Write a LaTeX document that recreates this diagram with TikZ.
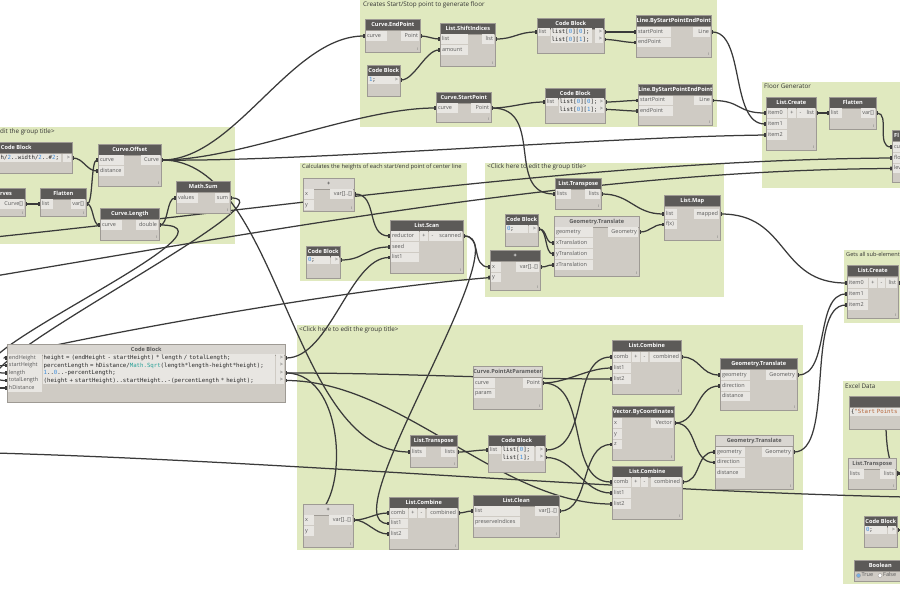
\documentclass[tikz,border=0pt]{standalone}
\usepackage{fontspec}
\setmainfont{Open Sans}
\newfontfamily\codefont{DejaVu Sans Mono}
\usetikzlibrary{arrows.meta}
\definecolor{grp}{HTML}{E0E9BF}
\definecolor{nbody}{HTML}{CFCBC4}
\definecolor{bord}{HTML}{9E9A94}
\definecolor{hdark}{HTML}{5C5A58}
\definecolor{hlight}{HTML}{D9D6D1}
\definecolor{lab}{HTML}{E8E6E2}
\definecolor{labtxt}{HTML}{5A5A5A}
\definecolor{wirec}{HTML}{3A3A3A}
\definecolor{numc}{HTML}{3C8DDB}
\definecolor{fnc}{HTML}{2AA198}
\definecolor{strc}{HTML}{B5653A}
\pgfdeclarelayer{bg}
\pgfdeclarelayer{wl}
\pgfsetlayers{bg,wl,main}
\tikzset{
 grptitle/.style={anchor=west, inner sep=0pt, font=\fontsize{6.3}{7}\selectfont, text=black!80},
 dbody/.style={anchor=north west, fill=nbody, draw=bord, line width=0.6pt, inner sep=0pt},
 dhead/.style={anchor=north west, fill=hdark, draw=bord, line width=0.6pt, text=white, font=\fontsize{5.6}{6.5}\selectfont\bfseries, minimum height=11pt, inner sep=0pt},
 lhead/.style={dhead, fill=hlight, text=labtxt},
 htext/.style={anchor=west, inner sep=0pt, text=white, font=\fontsize{5.6}{6.5}\selectfont\bfseries},
 imark/.style={anchor=south east, inner sep=0pt, text=labtxt, font=\fontsize{3.6}{4}\selectfont},
 pin/.style={anchor=west, fill=lab, text=labtxt, font=\fontsize{5.5}{6.5}\selectfont, minimum height=9.5pt, inner xsep=1pt, inner ysep=0pt, align=left, text height=4.2pt, text depth=1.3pt},
 pout/.style={pin, anchor=east, align=right},
 pins/.style={pin, minimum height=7.4pt},
 pouts/.style={pout, minimum height=7.4pt},
 pbtn/.style={anchor=west, fill=lab, text=labtxt, font=\fontsize{5.5}{6.5}\selectfont, minimum height=9.5pt, minimum width=7.5pt, inner sep=0pt, text height=4.2pt, text depth=1.3pt},
 codel/.style={anchor=west, fill=lab, text=black!85, font=\codefont\fontsize{5.7}{7}\selectfont, inner xsep=1pt, inner ysep=0pt, minimum height=7.5pt, align=left, text height=4.3pt, text depth=1.2pt},
 wire/.style={draw=wirec, line width=1.25pt, {Rectangle[length=2.6pt,width=3.8pt]}-{Rectangle[length=2.6pt,width=3.8pt]}},
 wirefree/.style={draw=wirec, line width=1.25pt},
 wireend/.style={draw=wirec, line width=1.25pt, -{Rectangle[length=2.6pt,width=3.8pt]}},
 wirestart/.style={draw=wirec, line width=1.25pt, {Rectangle[length=2.6pt,width=3.8pt]}-},
 radio/.style={circle, draw=bord, fill=white, minimum size=4pt, inner sep=0pt},
}
% node with the small mark at the lower right corner
\newcommand\dnode[7]{%
 \node[dbody, minimum width=#4pt, minimum height=#5pt] (#1) at (#2,#3) {};
 \node[#7, minimum width=#4pt] (#1-h) at (#2,#3) {#6};
 \node[imark] (#1-m) at (#2+#4-2,#3+#5-1.5) {I};}
% code block node (no mark)
\newcommand\cnode[7]{%
 \node[dbody, minimum width=#4pt, minimum height=#5pt] (#1) at (#2,#3) {};
 \node[#7, minimum width=#4pt] (#1-h) at (#2,#3) {#6};}
\newcommand\pinL[5]{\pgfmathsetmacro\mytw{#4-2}\node[pin,text width=\mytw pt] (#1) at (#2,#3) {#5};}
\newcommand\poutR[5]{\pgfmathsetmacro\mytw{#4-2}\node[pout,text width=\mytw pt] (#1) at (#2,#3) {#5};}
\newcommand\pinS[5]{\pgfmathsetmacro\mytw{#4-2}\node[pins,text width=\mytw pt] (#1) at (#2,#3) {#5};}
\newcommand\poutS[5]{\pgfmathsetmacro\mytw{#4-2}\node[pouts,text width=\mytw pt] (#1) at (#2,#3) {#5};}
\newcommand\codeL[5]{\pgfmathsetmacro\mytw{#4-2}\node[codel,text width=\mytw pt] (#1) at (#2,#3) {#5};}
\newcommand\btn[4]{\node[pbtn] (#1) at (#2,#3) {#4};}
\newcommand\wire[3]{\draw[wire] (#1.east) .. controls +(#3,0) and +(-#3,0) .. (#2.west);}
\newcommand\nm[1]{\textcolor{numc}{#1}}
\begin{document}
\begin{tikzpicture}[x=1pt,y=-1pt]
\useasboundingbox (0,0) rectangle (900,595);
\clip (0,0) rectangle (900,595);

% ---------- top group
\dnode{ep}{365}{19}{55}{33}{Curve.EndPoint}{dhead}
\pinL{ep-i1}{365.8}{36}{21}{curve}
\poutR{ep-o1}{419.2}{36}{18}{Point}
\cnode{cb1}{367}{65}{33}{31}{Code Block}{dhead}
\codeL{cb1-c}{367.8}{80}{23}{\nm{1};}
\poutS{cb1-o1}{399.2}{80}{8}{>}
\dnode{si}{440}{23}{55}{43}{List.ShiftIndices}{dhead}
\pinL{si-i1}{440.8}{39}{27}{list}
\pinL{si-i2}{440.8}{50}{27}{amount}
\poutR{si-o1}{494.2}{39}{12}{list}
\cnode{cbA}{537}{18}{67}{35}{Code Block}{dhead}
\pinS{cbA-i1}{537.8}{32}{12}{list}
\codeL{cbA-c1}{550.5}{32}{41}{list[\nm{0}][\nm{0}];}
\codeL{cbA-c2}{550.5}{39.5}{41}{list[\nm{0}][\nm{1}];}
\poutS{cbA-o1}{603.2}{32}{8}{>}
\poutS{cbA-o2}{603.2}{39.5}{8}{>}
\dnode{l1}{636}{15}{75}{42}{Line.ByStartPointEndPoint}{dhead}
\pinL{l1-i1}{636.8}{32}{34}{startPoint}
\pinL{l1-i2}{636.8}{42.5}{34}{endPoint}
\poutR{l1-o1}{710.2}{32}{17}{Line}
\dnode{sp}{436}{92}{55}{30}{Curve.StartPoint}{dhead}
\pinL{sp-i1}{436.8}{108}{21}{curve}
\poutR{sp-o1}{490.2}{108}{19}{Point}
\cnode{cbB}{545}{88}{60}{35}{Code Block}{dhead}
\pinS{cbB-i1}{545.8}{102}{12}{list}
\codeL{cbB-c1}{558.5}{102}{40}{list[\nm{0}][\nm{0}];}
\codeL{cbB-c2}{558.5}{109.5}{40}{list[\nm{0}][\nm{1}];}
\poutS{cbB-o1}{604.2}{102}{8}{>}
\poutS{cbB-o2}{604.2}{109.5}{8}{>}
\dnode{l2}{638}{84}{74}{41}{Line.ByStartPointEndPoint}{dhead}
\pinL{l2-i1}{638.8}{100.5}{34}{startPoint}
\pinL{l2-i2}{638.8}{111}{34}{endPoint}
\poutR{l2-o1}{711.2}{100.5}{17}{Line}

% ---------- left group
\cnode{cbL}{-40}{142}{112}{31}{Code Block}{dhead}
\codeL{cbL-c}{-0.5}{158}{61}{h/\nm{2}..width/\nm{2}..\#\nm{2};}
\poutS{cbL-o1}{71.2}{158}{8}{>}
\dnode{cv}{-40}{188}{65}{28}{}{dhead}
\node[htext] (cv-t) at (0,193.5) {rves};
\poutR{cv-o1}{24.2}{204}{24}{Curve[]}
\dnode{fl}{40}{188}{46}{28}{Flatten}{dhead}
\pinL{fl-i1}{40.8}{204}{12}{list}
\poutR{fl-o1}{85.2}{204}{14}{var[]}
\dnode{co}{98}{144}{63}{42}{Curve.Offset}{dhead}
\pinL{co-i1}{98.8}{160}{25}{curve}
\pinL{co-i2}{98.8}{171}{25}{distance}
\poutR{co-o1}{160.2}{160}{19}{Curve}
\dnode{cl}{100}{208}{59}{32}{Curve.Length}{dhead}
\pinL{cl-i1}{100.8}{225}{21}{curve}
\poutR{cl-o1}{158.2}{225}{22}{double}
\dnode{ms}{176}{181}{54}{32}{Math.Sum}{dhead}
\pinL{ms-i1}{176.8}{198}{21}{values}
\poutR{ms-o1}{229.2}{198}{14}{sum}

% ---------- big code block
\cnode{cbBig}{7}{344}{278}{58}{Code Block}{lhead}
\pinS{cbBig-i1}{7.8}{358}{34}{endHeight}
\pinS{cbBig-i2}{7.8}{365.5}{34}{startHeight}
\pinS{cbBig-i3}{7.8}{373}{34}{length}
\pinS{cbBig-i4}{7.8}{380.5}{34}{totalLength}
\pinS{cbBig-i5}{7.8}{388}{34}{hDistance}
\codeL{cbBig-c1}{42.5}{358}{232}{height = (endHeight - startHeight) * length / totalLength;}
\codeL{cbBig-c2}{42.5}{365.5}{232}{percentLength = hDistance/\textcolor{fnc}{Math.Sqrt}(length*length-height*height);}
\codeL{cbBig-c3}{42.5}{373}{232}{\nm{1}..\nm{0}..-percentLength;}
\codeL{cbBig-c4}{42.5}{380.5}{232}{(height + startHeight)..startHeight..-(percentLength * height);}
\poutS{cbBig-o1}{284.2}{358}{8}{>}
\poutS{cbBig-o2}{284.2}{365.5}{8}{>}
\poutS{cbBig-o3}{284.2}{373}{8}{>}
\poutS{cbBig-o4}{284.2}{380.5}{8}{>}

% ---------- heights group
\dnode{plusH}{303}{178}{51}{33}{+}{lhead}
\pinL{plusH-i1}{303.8}{194}{10}{x}
\pinL{plusH-i2}{303.8}{205}{10}{y}
\poutR{plusH-o1}{353.2}{194}{23}{var[]..[]}
\cnode{cb0a}{306}{246}{34}{32}{Code Block}{dhead}
\codeL{cb0a-c}{306.8}{260}{23}{\nm{0};}
\poutS{cb0a-o1}{339.2}{260}{8}{>}
\dnode{scan}{390}{220}{73}{53}{List.Scan}{dhead}
\pinL{scan-i1}{390.8}{236}{28}{reductor}
\btn{scan-b1}{420}{236}{+}
\btn{scan-b2}{428.5}{236}{-}
\pinL{scan-i2}{390.8}{247}{28}{seed}
\pinL{scan-i3}{390.8}{257.5}{28}{list1}
\poutR{scan-o1}{462.2}{236}{26}{scanned}

% ---------- middle group
\dnode{ltM}{555}{178}{46}{31}{List.Transpose}{dhead}
\pinL{ltM-i1}{555.8}{194}{15}{lists}
\poutR{ltM-o1}{600.2}{194}{15}{lists}
\cnode{cb0b}{505}{214}{33}{32}{Code Block}{dhead}
\codeL{cb0b-c}{505.8}{229}{22}{\nm{0};}
\poutS{cb0b-o1}{537.2}{229}{8}{>}
\dnode{gtM}{554}{216}{85}{60}{Geometry.Translate}{lhead}
\pinL{gtM-i1}{554.8}{232}{38}{geometry}
\pinL{gtM-i2}{554.8}{243}{38}{xTranslation}
\pinL{gtM-i3}{554.8}{254}{38}{yTranslation}
\pinL{gtM-i4}{554.8}{265}{38}{zTranslation}
\poutR{gtM-o1}{638.2}{232}{30}{Geometry}
\dnode{plusM}{490}{250}{50}{40}{+}{dhead}
\pinL{plusM-i1}{490.8}{267}{10}{x}
\pinL{plusM-i2}{490.8}{277.5}{10}{y}
\poutR{plusM-o1}{539.2}{267}{23}{var[]..[]}
\dnode{map}{664}{195}{56}{45}{List.Map}{dhead}
\pinL{map-i1}{664.8}{214}{12}{list}
\pinL{map-i2}{664.8}{224.5}{12}{f(x)}
\poutR{map-o1}{719.2}{214}{25}{mapped}

% ---------- floor generator
\dnode{lcF}{766}{97}{50}{53}{List.Create}{dhead}
\pinL{lcF-i1}{766.8}{113}{20}{item0}
\btn{lcF-b1}{788}{113}{+}
\btn{lcF-b2}{796.5}{113}{-}
\pinL{lcF-i2}{766.8}{124}{20}{item1}
\pinL{lcF-i3}{766.8}{135}{20}{item2}
\poutR{lcF-o1}{815.2}{113}{12}{list}
\dnode{flF}{829}{97}{47}{32}{Flatten}{dhead}
\pinL{flF-i1}{829.8}{113}{12}{list}
\poutR{flF-o1}{875.2}{113}{14}{var[]}
\cnode{fg}{892}{130}{40}{52}{}{dhead}
\node[htext] (fg-t) at (894,135.5) {Fl};
\pinL{fg-i1}{892.8}{147}{22}{cu}
\pinL{fg-i2}{892.8}{158}{22}{flo}
\pinL{fg-i3}{892.8}{168.5}{22}{lev}

% ---------- gets all
\dnode{lcG}{847}{265}{51}{53}{List.Create}{dhead}
\pinL{lcG-i1}{847.8}{283}{20}{item0}
\btn{lcG-b1}{869}{283}{+}
\btn{lcG-b2}{877.5}{283}{-}
\pinL{lcG-i2}{847.8}{294}{20}{item1}
\pinL{lcG-i3}{847.8}{305}{20}{item2}
\poutR{lcG-o1}{897.2}{283}{11}{list}

% ---------- excel data
\cnode{cbX}{849}{396}{70}{33}{}{dhead}
\codeL{cbX-c}{849.8}{412}{62}{\{\textcolor{strc}{"Start Points}}
\dnode{ltX}{848}{458}{48}{31}{List.Transpose}{lhead}
\pinL{ltX-i1}{848.8}{474}{15}{lists}
\poutR{ltX-o1}{895.2}{474}{15}{lists}
\cnode{cb0c}{864}{516}{33}{31}{Code Block}{dhead}
\codeL{cb0c-c}{864.8}{530}{22}{\nm{0};}
\poutS{cb0c-o1}{896.2}{530}{8}{>}
\cnode{bool}{854}{560}{52}{21}{Boolean}{dhead}
\node[radio, fill=numc!70] (bool-r1) at (858.5,575.5) {};
\node[pin, fill=none] (bool-t1) at (860.5,575.5) {True};
\node[radio] (bool-r2) at (880,575.5) {};
\node[pin, fill=none] (bool-t2) at (882,575.5) {False};

% ---------- bottom group
\dnode{pap}{473}{366}{69}{43}{Curve.PointAtParameter}{lhead}
\pinL{pap-i1}{473.8}{383}{21}{curve}
\pinL{pap-i2}{473.8}{393.5}{21}{param}
\poutR{pap-o1}{541.2}{383}{18}{Point}
\dnode{lc1}{612}{340}{69}{54}{List.Combine}{dhead}
\pinL{lc1-i1}{612.8}{357}{18}{comb}
\btn{lc1-b1}{632}{357}{+}
\btn{lc1-b2}{640.5}{357}{-}
\pinL{lc1-i2}{612.8}{368}{18}{list1}
\pinL{lc1-i3}{612.8}{379}{18}{list2}
\poutR{lc1-o1}{680.2}{357}{30}{combined}
\dnode{gt1}{720}{358}{77}{52}{Geometry.Translate}{dhead}
\pinL{gt1-i1}{720.8}{375}{29}{geometry}
\pinL{gt1-i2}{720.8}{386}{29}{direction}
\pinL{gt1-i3}{720.8}{396.5}{29}{distance}
\poutR{gt1-o1}{796.2}{375}{30}{Geometry}
\dnode{vec}{612}{406}{62}{54}{Vector.ByCoordinates}{dhead}
\pinL{vec-i1}{612.8}{423}{9}{x}
\pinL{vec-i2}{612.8}{434}{9}{y}
\pinL{vec-i3}{612.8}{444.5}{9}{z}
\poutR{vec-o1}{673.2}{423}{22}{Vector}
\dnode{gt2}{715}{435}{78}{54}{Geometry.Translate}{lhead}
\pinL{gt2-i1}{715.8}{452}{29}{geometry}
\pinL{gt2-i2}{715.8}{462.5}{29}{direction}
\pinL{gt2-i3}{715.8}{473}{29}{distance}
\poutR{gt2-o1}{792.2}{452}{30}{Geometry}
\dnode{lc2}{612}{466}{70}{53}{List.Combine}{dhead}
\pinL{lc2-i1}{612.8}{482}{18}{comb}
\btn{lc2-b1}{632}{482}{+}
\btn{lc2-b2}{640.5}{482}{-}
\pinL{lc2-i2}{612.8}{493}{18}{list1}
\pinL{lc2-i3}{612.8}{504}{18}{list2}
\poutR{lc2-o1}{681.2}{482}{30}{combined}
\dnode{ltB}{410}{435}{47}{32}{List.Transpose}{dhead}
\pinL{ltB-i1}{410.8}{452}{15}{lists}
\poutR{ltB-o1}{456.2}{452}{15}{lists}
\cnode{cbC}{488}{435}{57}{37}{Code Block}{dhead}
\pinS{cbC-i1}{488.8}{450}{12}{list}
\codeL{cbC-c1}{501.5}{450}{32}{list[\nm{0}];}
\codeL{cbC-c2}{501.5}{457.5}{32}{list[\nm{1}];}
\poutS{cbC-o1}{544.2}{450}{8}{>}
\poutS{cbC-o2}{544.2}{457.5}{8}{>}
\dnode{plusB}{303}{504}{50}{43}{+}{lhead}
\pinL{plusB-i1}{303.8}{520}{10}{x}
\pinL{plusB-i2}{303.8}{531}{10}{y}
\poutR{plusB-o1}{352.2}{520}{23}{var[]..[]}
\dnode{lc3}{389}{497}{69}{52}{List.Combine}{dhead}
\pinL{lc3-i1}{389.8}{513}{18}{comb}
\btn{lc3-b1}{409}{513}{+}
\btn{lc3-b2}{417.5}{513}{-}
\pinL{lc3-i2}{389.8}{523.5}{18}{list1}
\pinL{lc3-i3}{389.8}{534}{18}{list2}
\poutR{lc3-o1}{457.2}{513}{30}{combined}
\dnode{clean}{473}{495}{86}{42}{List.Clean}{dhead}
\pinL{clean-i1}{473.8}{511}{46}{list}
\pinL{clean-i2}{473.8}{522}{46}{preserveIndices}
\poutR{clean-o1}{558.2}{511}{23}{var[]..[]}

% ---------- groups
\begin{pgfonlayer}{bg}
\clip (0,0) rectangle (900,595);
\fill[grp] (360,0) rectangle (717,127);
\node[grptitle] (g1) at (363,5) {Creates Start/Stop point to generate floor};
\fill[grp] (0,127) rectangle (235,244);
\node[grptitle] (g2) at (0,131.5) {dit the group title>};
\fill[grp] (300,163) rectangle (467,281);
\node[grptitle, font=\fontsize{5.8}{7}\selectfont] (g3) at (302,166.5) {Calculates the heights of each start/end point of center line};
\fill[grp] (485,163) rectangle (724,297);
\node[grptitle] (g4) at (487,166.5) {<Click here to edit the group title>};
\fill[grp] (762,82) rectangle (900,188);
\node[grptitle] (g5) at (764,86) {Floor Generator};
\fill[grp] (844,250) rectangle (900,323);
\node[grptitle, font=\fontsize{5.6}{7}\selectfont] (g6) at (846,254) {Gets all sub-element};
\fill[grp] (297,325) rectangle (803,550);
\node[grptitle] (g7) at (299,329.5) {<Click here to edit the group title>};
\fill[grp] (843,381) rectangle (900,584);
\node[grptitle] (g8) at (845,386) {Excel Data};
\end{pgfonlayer}

% ---------- wires
\begin{pgfonlayer}{wl}
\clip (0,0) rectangle (900,595);
\coordinate (LA) at (-5,237);
\coordinate (LB) at (-5,276);
\coordinate (LC) at (-5,453);
\coordinate (LD) at (-5,365.5);
\coordinate (LE) at (-5,388);
\coordinate (RC) at (905,497);
\coordinate (RX) at (905,474);
\coordinate (XA) at (886,428);
\coordinate (RG) at (905,283);
\coordinate (RZ) at (905,530);
\wire{cbL-o1}{co-i2}{12}
\wire{fl-o1}{co-i1}{8}
\wire{fl-o1}{cl-i1}{8}
\wire{cv-o1}{fl-i1}{6}
\wire{cl-o1}{ms-i1}{10}
\draw[wire] (cl-o1.east) .. controls (260,225) and (-90,373) .. (cbBig-i3.west);
\draw[wire] (ms-o1.east) .. controls (300,198) and (-70,380.5) .. (cbBig-i4.west);
\wire{co-o1}{ep-i1}{75}
\wire{co-o1}{sp-i1}{80}
\draw[wire] (co-o1.east) .. controls (300,162) and (600,137) .. (lcF-i3.west);
\draw[wire] (co-o1.east) .. controls (280,160) and (290,452) .. (ltB-i1.west);
\wire{ep-o1}{si-i1}{8}
\wire{cb1-o1}{si-i2}{15}
\wire{si-o1}{cbA-i1}{20}
\wire{cbA-o1}{l1-i1}{12}
\wire{cbA-o2}{l1-i2}{12}
\wire{sp-o1}{cbB-i1}{20}
\draw[wire] (sp-o1.east) .. controls (545,108) and (505,194) .. (ltM-i1.west);
\wire{cbB-o1}{l2-i1}{12}
\wire{cbB-o2}{l2-i2}{12}
\draw[wire] (l1-o1.east) .. controls (745,32) and (730,124) .. (lcF-i2.west);
\wire{l2-o1}{lcF-i1}{30}
\wire{lcF-o1}{flF-i1}{5}
\draw[wire] (flF-o1.east) .. controls (890,113) and (876,147) .. (fg-i1.west);
\draw[wireend] (LA) .. controls (300,205) and (600,160) .. (fg-i2.west);
\draw[wireend] (LB) .. controls (300,225) and (600,170) .. (fg-i3.west);
\wire{ltM-o1}{map-i1}{30}
\wire{gtM-o1}{map-i2}{12}
\wire{cb0b-o1}{gtM-i2}{10}
\wire{cb0b-o1}{gtM-i3}{10}
\wire{plusM-o1}{gtM-i4}{8}
\wire{map-o1}{lcG-i1}{70}
\wire{plusH-o1}{scan-i1}{25}
\wire{cb0a-o1}{scan-i2}{25}
\draw[wire] (cbBig-o1.east) .. controls (330,358) and (350,257.5) .. (scan-i3.west);
\wire{scan-o1}{plusM-i1}{20}
\draw[wire] (scan-o1.east) .. controls (523,236) and (329,523.5) .. (lc3-i2.west);
\draw[wire] (plusM-i2.west) .. controls (300,293) and (-20,358) .. (cbBig-i1.west);
\draw[wire] (cbBig-o3.east) .. controls (400,373) and (500,379) .. (lc1-i3.west);
\draw[wirestart] (cbBig-o3.east) .. controls (350,373) and (350,520) .. (plusB-i1.west);
\draw[wire] (cbBig-o4.east) .. controls (400,380.5) and (500,504) .. (lc2-i3.west);
\wire{pap-o1}{lc1-i2}{25}
\draw[wire] (pap-o1.east) .. controls (590,383) and (565,482) .. (lc2-i1.west);
\draw[wire] (cbC-o1.east) .. controls (590,450) and (570,357) .. (lc1-i1.west);
\wire{cbC-o2}{lc2-i2}{30}
\wire{ltB-o1}{cbC-i1}{12}
\wire{plusB-o1}{lc3-i1}{15}
\wire{plusB-o1}{lc3-i3}{15}
\wire{lc3-o1}{clean-i1}{6}
\draw[wire] (clean-o1.east) .. controls (590,511) and (580,444.5) .. (vec-i3.west);
\wire{vec-o1}{gt1-i2}{25}
\wire{vec-o1}{gt2-i2}{25}
\wire{lc1-o1}{gt1-i1}{20}
\wire{lc2-o1}{gt2-i1}{20}
\draw[wire] (gt1-o1.east) .. controls (830,375) and (815,294) .. (lcG-i2.west);
\draw[wire] (gt2-o1.east) .. controls (835,452) and (805,305) .. (lcG-i3.west);
\draw[wirefree] (LC) .. controls (300,462) and (600,490) .. (RC);
\draw[wirestart] (ltX-o1.east) -- (RX);
\draw[wirefree] (XA) .. controls (887,462) and (893,474) .. (RX);
\draw[wirestart] (lcG-o1.east) -- (RG);
\draw[wirestart] (cb0c-o1.east) -- (RZ);
\draw[wireend] (LD) -- (cbBig-i2.west);
\draw[wireend] (LE) -- (cbBig-i5.west);
\end{pgfonlayer}
\end{tikzpicture}
\end{document}
